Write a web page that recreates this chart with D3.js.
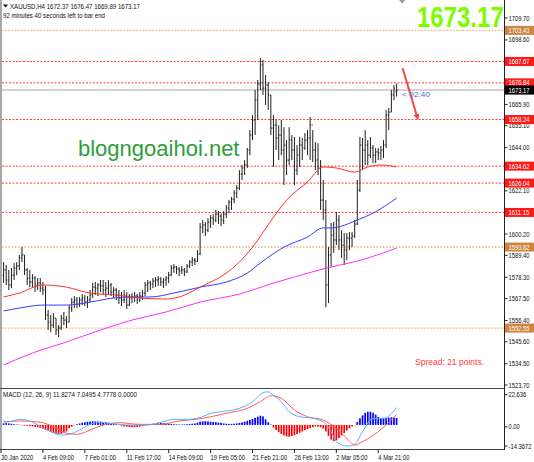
<!DOCTYPE html>
<html><head><meta charset="utf-8"><title>XAUUSD H4</title>
<script src="https://cdn.jsdelivr.net/npm/d3@7/dist/d3.min.js"></script>
<style>html,body{margin:0;padding:0;background:#fff;overflow:hidden}svg{display:block}</style>
</head><body><div id="chart"></div>
<script>
// ---------- DATA ----------
const symbolTitle = "XAUUSD,H4  1672.37 1676.47 1669.89 1673.17";
const timerText = "92 minutes 40 seconds left to bar end";
const countdown = "< 92:40";
const spreadText = "Spread: 21 points.";
const watermark = "blogngoaihoi.net";
const macdTitle = "MACD (12, 26, 9) 11.8274 7.0495 4.7778 0.0000";

const opens = [
1579.4,1582.0,1576.9,1574.4,1579.4,1583.0,1584.0,1588.1,1589.6,1582.0,
1577.9,1575.9,1577.9,1574.4,1575.4,1572.8,1571.8,1559.2,1555.6,1554.1,
1557.6,1551.6,1552.6,1557.6,1556.6,1555.6,1562.7,1565.7,1566.8,1564.7,
1566.8,1567.8,1565.7,1566.8,1569.3,1573.3,1572.8,1574.4,1573.9,1571.8,
1572.8,1574.4,1570.8,1571.8,1569.3,1567.8,1566.8,1568.8,1564.2,1567.8,
1568.3,1568.8,1566.8,1568.8,1570.3,1574.4,1575.4,1574.9,1576.4,1576.9,
1577.4,1575.9,1576.9,1577.9,1579.4,1583.0,1583.5,1582.5,1581.5,1582.0,
1581.0,1584.0,1586.0,1587.0,1586.5,1590.1,1603.8,1604.8,1602.2,1606.3,
1608.3,1607.3,1610.3,1609.3,1607.3,1610.3,1613.4,1616.4,1617.9,1621.0,
1623.5,1630.6,1633.7,1635.2,1642.8,1650.4,1658.0,1668.1,1676.2,1685.9,
1674.2,1675.7,1670.7,1653.9,1655.4,1648.9,1650.4,1642.8,1645.3,1637.7,
1647.8,1642.8,1632.6,1640.2,1645.3,1643.8,1647.8,1648.9,1655.4,1642.8,
1637.7,1633.7,1617.4,1612.4,1574.4,1589.6,1599.7,1597.2,1607.3,1597.2,
1594.6,1592.1,1598.2,1598.2,1599.2,1605.3,1622.5,1645.3,1642.8,1645.3,
1640.2,1643.8,1640.2,1641.8,1641.3,1642.8,1645.3,1660.5,1662.0,1670.7,
1672.37];
const highs = [
1586.0,1584.5,1582.0,1583.0,1585.5,1586.0,1589.6,1593.6,1589.6,1583.0,
1582.0,1579.9,1578.9,1577.9,1577.9,1575.9,1573.9,1561.7,1559.2,1560.2,
1557.6,1554.1,1559.2,1560.7,1558.6,1564.2,1567.8,1568.8,1568.3,1568.3,
1569.8,1569.3,1568.8,1571.8,1575.4,1575.9,1575.4,1576.9,1576.9,1575.9,
1576.9,1575.4,1573.3,1572.8,1571.8,1570.8,1571.8,1570.8,1569.8,1570.3,
1570.8,1569.8,1570.8,1571.8,1575.9,1576.9,1576.4,1577.9,1578.4,1578.9,
1578.4,1577.9,1578.9,1581.0,1584.5,1585.0,1584.0,1583.5,1584.0,1583.0,
1585.0,1587.0,1588.6,1588.1,1592.1,1605.8,1607.3,1606.3,1608.3,1609.8,
1610.3,1612.4,1611.9,1610.8,1611.9,1614.9,1617.4,1619.0,1622.5,1625.0,
1632.6,1635.2,1637.7,1643.8,1652.9,1660.5,1673.2,1678.3,1689.4,1688.4,
1680.8,1677.2,1670.7,1660.5,1658.0,1655.4,1658.0,1654.4,1647.8,1654.4,
1650.4,1649.4,1645.3,1649.4,1648.9,1651.4,1652.9,1659.5,1652.9,1646.8,
1646.3,1637.7,1627.6,1617.4,1593.6,1605.8,1606.3,1611.4,1609.8,1602.2,
1600.7,1600.7,1601.2,1601.2,1607.3,1627.6,1649.4,1648.9,1652.9,1647.8,
1649.4,1645.3,1643.8,1643.8,1644.8,1647.8,1663.1,1664.1,1673.2,1675.7,
1676.47];
const lows = [
1575.4,1574.4,1571.8,1572.8,1576.9,1579.4,1582.0,1586.0,1579.4,1574.4,
1573.3,1573.3,1570.8,1571.8,1570.8,1569.3,1556.6,1551.6,1550.5,1552.6,
1549.0,1548.0,1551.6,1554.1,1552.6,1555.6,1560.7,1562.7,1562.7,1563.2,
1564.2,1563.7,1562.7,1565.7,1567.8,1569.3,1568.8,1570.8,1569.3,1568.3,
1569.8,1568.8,1567.8,1566.8,1564.7,1563.7,1565.2,1562.2,1563.7,1565.2,
1565.7,1564.7,1565.7,1566.8,1568.8,1570.8,1571.8,1572.8,1573.3,1573.9,
1573.9,1572.8,1573.9,1575.4,1578.9,1580.5,1579.9,1578.9,1579.9,1578.9,
1580.5,1583.0,1584.0,1584.5,1586.0,1589.5,1600.7,1599.2,1601.2,1603.3,
1604.8,1606.3,1605.3,1604.3,1605.3,1608.3,1610.8,1612.4,1615.9,1618.4,
1622.5,1627.6,1630.1,1633.7,1640.2,1647.8,1650.4,1658.0,1673.2,1670.7,
1665.6,1663.1,1650.4,1634.2,1642.8,1637.7,1640.2,1625.0,1630.1,1635.2,
1637.7,1625.0,1630.1,1634.2,1637.7,1642.8,1640.2,1637.7,1636.7,1632.6,
1630.1,1612.4,1607.3,1563.2,1565.2,1583.5,1590.6,1594.6,1592.1,1588.1,
1584.5,1587.0,1592.1,1593.6,1598.2,1604.8,1621.5,1632.6,1635.2,1635.2,
1638.7,1636.2,1636.2,1637.7,1637.7,1638.7,1643.8,1652.9,1662.0,1668.1,
1669.89];
const closes = [
1582.0,1576.9,1574.4,1579.4,1583.0,1584.0,1588.1,1589.6,1582.0,1577.9,
1575.9,1577.9,1574.4,1575.4,1572.8,1571.8,1559.2,1555.6,1554.1,1557.6,
1551.6,1552.6,1557.6,1556.6,1555.6,1562.7,1565.7,1566.8,1564.7,1566.8,
1567.8,1565.7,1566.8,1569.3,1573.3,1572.8,1574.4,1573.9,1571.8,1572.8,
1574.4,1570.8,1571.8,1569.3,1567.8,1566.8,1568.8,1564.2,1567.8,1568.3,
1568.8,1566.8,1568.8,1570.3,1574.4,1575.4,1574.9,1576.4,1576.9,1577.4,
1575.9,1576.9,1577.9,1579.4,1583.0,1583.5,1582.5,1581.5,1582.0,1581.0,
1584.0,1586.0,1587.0,1586.5,1590.1,1603.8,1604.8,1602.2,1606.3,1608.3,
1607.3,1610.3,1609.3,1607.3,1610.3,1613.4,1616.4,1617.9,1621.0,1623.5,
1630.6,1633.7,1635.2,1642.8,1650.4,1658.0,1668.1,1676.2,1685.9,1674.2,
1675.7,1670.7,1653.9,1655.4,1648.9,1650.4,1642.8,1645.3,1637.7,1647.8,
1642.8,1632.6,1640.2,1645.3,1643.8,1647.8,1648.9,1655.4,1642.8,1637.7,
1633.7,1617.4,1612.4,1574.4,1589.6,1599.7,1597.2,1607.3,1597.2,1594.6,
1592.1,1598.2,1598.2,1599.2,1605.3,1622.5,1645.3,1642.8,1645.3,1640.2,
1643.8,1640.2,1641.8,1641.3,1642.8,1645.3,1660.5,1662.0,1670.7,1674.2,
1673.17];

// moving averages (bar index, price)
const maRedIdx = [0,6,15,24,33,43,52,62,67,75,85,90,95,102,108,116,122,127,134,139,144,150];
const maRedVal = [1568.3,1570.3,1574.4,1573.3,1570.3,1569.3,1567.8,1567.3,1568.3,1573.3,1580.4,1586.0,1593.6,1606.8,1617.4,1626.6,1634.2,1633.7,1631.6,1634.2,1635.2,1634.2];
const maBlueIdx = [0,6,15,24,33,42,49,56,65,75,85,93,98,107,116,122,125,135,141,150];
const maBlueVal = [1561.2,1562.7,1564.2,1564.2,1565.7,1567.8,1568.3,1568.3,1570.3,1573.3,1575.9,1580.4,1585.5,1593.6,1598.7,1603.3,1603.3,1607.3,1610.8,1618.4];
const maPinkIdx = [0,11,24,37,49,62,75,90,102,107,125,135,150];
const maPinkVal = [1533.8,1539.9,1545.5,1551.6,1556.6,1560.7,1565.7,1569.8,1574.9,1576.9,1583.5,1586.5,1593.1];

// MACD
const macdHist = [
1.0,1.2,1.0,0.8,0.5,0.3,0.2,-0.3,-0.5,-0.6,
-0.8,-1.0,-1.3,-1.6,-2.0,-2.6,-3.2,-4.0,-4.8,-5.5,
-6.0,-6.2,-6.0,-5.3,-4.5,-2.2,-1.2,-0.3,0.5,1.0,
1.5,1.8,2.1,2.3,2.4,2.4,2.3,2.1,1.8,1.5,
1.2,1.0,0.7,0.5,0.2,-0.5,-1.0,-1.3,-1.5,-1.6,
-1.6,-1.5,-1.2,-0.8,-0.3,0.3,0.6,0.8,1.0,1.2,
1.3,1.2,1.0,0.8,0.6,0.5,0.4,0.3,0.3,0.4,
0.5,0.6,0.8,1.0,1.6,2.2,2.4,2.5,2.4,2.2,
2.0,1.8,1.6,1.4,1.0,0.8,0.7,0.7,0.8,1.0,
1.3,1.7,2.2,2.8,3.4,4.0,4.8,5.6,6.3,5.8,
3.8,1.8,0.3,-1.8,-3.5,-5.0,-6.2,-7.2,-7.8,-8.0,
-7.6,-7.0,-6.2,-5.3,-4.5,-3.6,-2.8,-2.2,-1.6,-1.0,
-1.2,-1.6,-2.5,-4.5,-7.5,-10.0,-11.0,-10.5,-9.0,-7.2,
-5.5,-3.8,-2.3,-1.0,-0.2,2.0,4.5,6.5,8.2,9.0,
9.0,8.3,7.0,5.5,4.7,4.5,4.6,5.0,5.2,5.0,
4.78];
const macdMainIdx = [0,2,6,10,14,18,22,25,29,33,37,41,44,49,55,60,65,70,75,79,83,90,95,99,101,103,106,109,113,118,122,125,127,131,134,137,141,145,150];
const macdMainVal = [2.7,2.2,3.8,2.7,-1.2,-4.6,-6.9,-6.4,-3.5,0.4,1.8,1.1,0.4,-0.1,-0.1,1.8,3.8,3.8,5.0,7.9,9.0,11.3,15.8,22.0,22.6,20.0,15.8,9.0,5.6,4.5,2.2,-4.6,-11.4,-14.37,-13.2,-4.6,4.5,4.5,11.83];
const macdSigIdx = [0,6,14,19,24,28,33,38,44,52,60,67,75,85,93,98,102,106,111,116,122,127,131,134,137,143,150];
const macdSigVal = [1.8,2.7,1.8,-1.2,-5.7,-6.4,-3.5,-0.1,1.5,0.4,0.4,2.7,4.2,7.9,11.3,15.8,19.9,18.1,10.2,5.6,3.3,-2.3,-9.1,-13.7,-11.4,-4.6,7.05];
const macdAxis = [22.636, 0, -14.3672];
const macdAxisText = ["22.636", "0.00", "-14.3672"];

// price axis and levels (ticks hidden under level labels are omitted)
const priceTicks = [1709.70,1698.60,1665.90,1655.10,1644.00,1622.10,1600.20,1589.40,1578.30,1567.50,1556.40,1545.60,1534.50,1523.70];
const levelPrices = [1703.43,1687.67,1676.84,1658.24,1634.62,1626.04,1611.15,1593.62,1552.55];
const levelKinds  = ["major","minor","minor","minor","minor","minor","minor","major","major"];
const lastPrice = 1673.17;

// time axis
const timeTickIdx = [-1,15,31,47,63,79,95,111,127,143];
const timeTickText = ["30 Jan 2020","4 Feb 09:00","7 Feb 01:00","11 Feb 17:00","14 Feb 09:00","19 Feb 05:00","21 Feb 21:00","26 Feb 13:00","2 Mar 05:00","4 Mar 21:00"];

// annotation arrow (bar index, price)
const arrowFrom = [152.3, 1684.2];
const arrowTo = [157.9, 1659.4];

// ---------- DRAW ----------
const W = 534, H = 462;
const svg = d3.select('#chart').append('svg').attr('width', W).attr('height', H)
  .style('font-family', '"Liberation Sans", Arial, sans-serif');
svg.append('rect').attr('width', W).attr('height', H).attr('fill', '#fff');

const x = d3.scaleLinear().domain([0, 150]).range([3.6, 396.6]);
const y = d3.scaleLinear().domain([1523.70, 1709.70]).range([385, 18]);
const ym = d3.scaleLinear().domain([-14.3672, 22.636]).range([446, 391.7]);

const defs = svg.append('defs');
defs.append('clipPath').attr('id', 'cMain').append('rect')
  .attr('x', 2).attr('y', 0).attr('width', 502.5).attr('height', 388);
defs.append('clipPath').attr('id', 'cMacd').append('rect')
  .attr('x', 2).attr('y', 389).attr('width', 502.5).attr('height', 60);
defs.append('marker').attr('id', 'arr').attr('viewBox', '0 0 10 10')
  .attr('refX', 5).attr('refY', 5).attr('markerWidth', 3.2).attr('markerHeight', 3.2)
  .attr('orient', 'auto').append('path').attr('d', 'M0,0 L10,5 L0,10 z').attr('fill', '#f04848');

function stext(parent, str, px, py, size, opt = {}) {
  const t = parent.append('text')
    .attr('transform', `translate(${px},${py}) scale(${opt.sx ?? 0.8},1)`)
    .attr('font-size', size)
    .attr('fill', opt.fill || '#111')
    .attr('dy', opt.dy ?? '0.35em')
    .attr('text-anchor', opt.anchor || 'start')
    .text(str);
  if (opt.weight) t.attr('font-weight', opt.weight);
  return t;
}

const main = svg.append('g').attr('clip-path', 'url(#cMain)');

// watermark
main.append('text').attr('x', 78).attr('y', 156).attr('font-size', 22)
  .attr('fill', '#2f9d3b').text(watermark);

// current price line
main.append('line').attr('x1', 2).attr('x2', 505).attr('y1', y(lastPrice)).attr('y2', y(lastPrice))
  .attr('stroke', '#d2d2d2').attr('stroke-width', 2);

// level lines
main.selectAll('line.lvl').data(levelPrices).join('line').attr('class', 'lvl')
  .attr('x1', 2).attr('x2', 505)
  .attr('y1', d => y(d)).attr('y2', d => y(d))
  .attr('stroke', (d, i) => levelKinds[i] === 'major' ? '#efb47c' : '#ff3b3b')
  .attr('stroke-width', (d, i) => levelKinds[i] === 'major' ? 1.4 : 1)
  .attr('stroke-dasharray', (d, i) => levelKinds[i] === 'major' ? '1.6,1.6' : '2,1.5');

// OHLC bars
const bars = main.append('g').attr('stroke', '#1e1e1e').attr('stroke-width', 1);
const idx = d3.range(closes.length);
bars.selectAll('line.hl').data(idx).join('line')
  .attr('x1', i => x(i)).attr('x2', i => x(i))
  .attr('y1', i => y(highs[i])).attr('y2', i => y(lows[i]));
bars.selectAll('line.op').data(idx).join('line')
  .attr('x1', i => x(i) - 1).attr('x2', i => x(i))
  .attr('y1', i => y(opens[i])).attr('y2', i => y(opens[i]));
bars.selectAll('line.cl').data(idx).join('line')
  .attr('x1', i => x(i)).attr('x2', i => x(i) + 1)
  .attr('y1', i => y(closes[i])).attr('y2', i => y(closes[i]));

// moving averages
const maLine = d3.line().x(d => x(d[0])).y(d => y(d[1])).curve(d3.curveMonotoneX);
function maPath(ix, vals, col) {
  main.append('path').datum(ix.map((v, k) => [v, vals[k]]))
    .attr('d', maLine).attr('fill', 'none').attr('stroke', col).attr('stroke-width', 1);
}
maPath(maPinkIdx, maPinkVal, '#ff2cff');
maPath(maBlueIdx, maBlueVal, '#3a3aff');
maPath(maRedIdx, maRedVal, '#ff3030');

// annotation arrow
svg.append('line')
  .attr('x1', x(arrowFrom[0])).attr('y1', y(arrowFrom[1]))
  .attr('x2', x(arrowTo[0])).attr('y2', y(arrowTo[1]))
  .attr('stroke', '#f04848').attr('stroke-width', 2).attr('marker-end', 'url(#arr)');

// countdown text near last bar
svg.append('text').attr('x', x(150) + 5.5).attr('y', y(lastPrice) + 4)
  .attr('dy', '0.35em').attr('font-size', 8).attr('fill', '#5b6be0')
  .attr('textLength', 28).attr('lengthAdjust', 'spacingAndGlyphs').text(countdown);

// chart shift marker
svg.append('path').attr('d', `M${x(150) + 2.5},0 L${x(150) + 8.5},0 L${x(150) + 5.5},3.5 Z`).attr('fill', '#9a9a9a');

// header
svg.append('path').attr('d', 'M3,4.5 L8,4.5 L5.5,7.5 Z').attr('fill', '#111');
svg.append('text').attr('x', 10).attr('y', 6).attr('dy', '0.35em').attr('font-size', 7.5)
  .attr('fill', '#111').attr('textLength', 130).attr('lengthAdjust', 'spacingAndGlyphs').text(symbolTitle);
svg.append('text').attr('x', 3).attr('y', 15).attr('dy', '0.35em').attr('font-size', 7.5)
  .attr('fill', '#111').attr('textLength', 102).attr('lengthAdjust', 'spacingAndGlyphs').text(timerText);

// big price
stext(svg, d3.format('.2f')(lastPrice), 417, 27, 30, { fill: '#7cfc00', weight: 'bold', dy: '0' });

// spread text
svg.append('text').attr('x', 415).attr('y', 362).attr('dy', '0.35em').attr('font-size', 8.6)
  .attr('fill', '#ff3b3b').attr('textLength', 69).attr('lengthAdjust', 'spacingAndGlyphs').text(spreadText);

// ---------- MACD panel ----------
const mg = svg.append('g').attr('clip-path', 'url(#cMacd)');
mg.selectAll('rect.h').data(idx).join('rect')
  .attr('x', i => x(i) - 0.85).attr('width', 1.7)
  .attr('y', i => Math.min(ym(macdHist[i]), ym(0)))
  .attr('height', i => Math.abs(ym(macdHist[i]) - ym(0)))
  .attr('fill', i => macdHist[i] >= 0 ? '#0000ff' : '#ff0000');
const mLine = d3.line().x(d => x(d[0])).y(d => ym(d[1])).curve(d3.curveMonotoneX);
mg.append('path').datum(macdSigIdx.map((v, k) => [v, macdSigVal[k]]))
  .attr('d', mLine).attr('fill', 'none').attr('stroke', '#ff5a5a').attr('stroke-width', 1);
mg.append('path').datum(macdMainIdx.map((v, k) => [v, macdMainVal[k]]))
  .attr('d', mLine).attr('fill', 'none').attr('stroke', '#5aaeff').attr('stroke-width', 1);
svg.append('text').attr('x', 3).attr('y', 394.5).attr('dy', '0.35em').attr('font-size', 7.5)
  .attr('fill', '#111').attr('textLength', 134).attr('lengthAdjust', 'spacingAndGlyphs').text(macdTitle);

// ---------- frame ----------
svg.append('rect').attr('x', 0).attr('y', 0).attr('width', 2).attr('height', 450).attr('fill', '#a8a8a8');
svg.append('line').attr('x1', 0).attr('x2', 505).attr('y1', 388.5).attr('y2', 388.5).attr('stroke', '#444');
svg.append('line').attr('x1', 0).attr('x2', 505).attr('y1', 449.5).attr('y2', 449.5).attr('stroke', '#444');
svg.append('line').attr('x1', 504.5).attr('x2', 504.5).attr('y1', 0).attr('y2', 450).attr('stroke', '#222');

// price axis
const pa = svg.append('g');
priceTicks.forEach(v => {
  pa.append('line').attr('x1', 504.5).attr('x2', 507.5).attr('y1', y(v)).attr('y2', y(v)).attr('stroke', '#222');
  stext(pa, d3.format('.2f')(v), 508.5, y(v), 7.3);
});
// level labels
levelPrices.forEach((v, i) => {
  pa.append('rect').attr('x', 505).attr('y', y(v) - 4.5).attr('width', 29).attr('height', 9)
    .attr('fill', levelKinds[i] === 'major' ? '#cd853f' : '#ff1a1a');
  stext(pa, d3.format('.2f')(v), 508.5, y(v), 7.3, { fill: '#fff' });
});
pa.append('rect').attr('x', 505).attr('y', y(lastPrice) - 4.5).attr('width', 29).attr('height', 9).attr('fill', '#000');
stext(pa, d3.format('.2f')(lastPrice), 508.5, y(lastPrice), 7.3, { fill: '#fff' });

// MACD axis
const macdLabelShift = [3, 2, 0];
macdAxis.forEach((v, i) => {
  pa.append('line').attr('x1', 504.5).attr('x2', 507.5).attr('y1', ym(v) + macdLabelShift[i]).attr('y2', ym(v) + macdLabelShift[i]).attr('stroke', '#222');
  stext(pa, macdAxisText[i], 508.5, ym(v) + macdLabelShift[i], 7.3);
});

// time axis
timeTickIdx.forEach((t, i) => {
  const px = Math.max(1, x(t));
  svg.append('line').attr('x1', px).attr('x2', px).attr('y1', 449.5).attr('y2', 453).attr('stroke', '#222');
  stext(svg, timeTickText[i], px, 457.5, 7.3);
});
</script>
</body></html>
